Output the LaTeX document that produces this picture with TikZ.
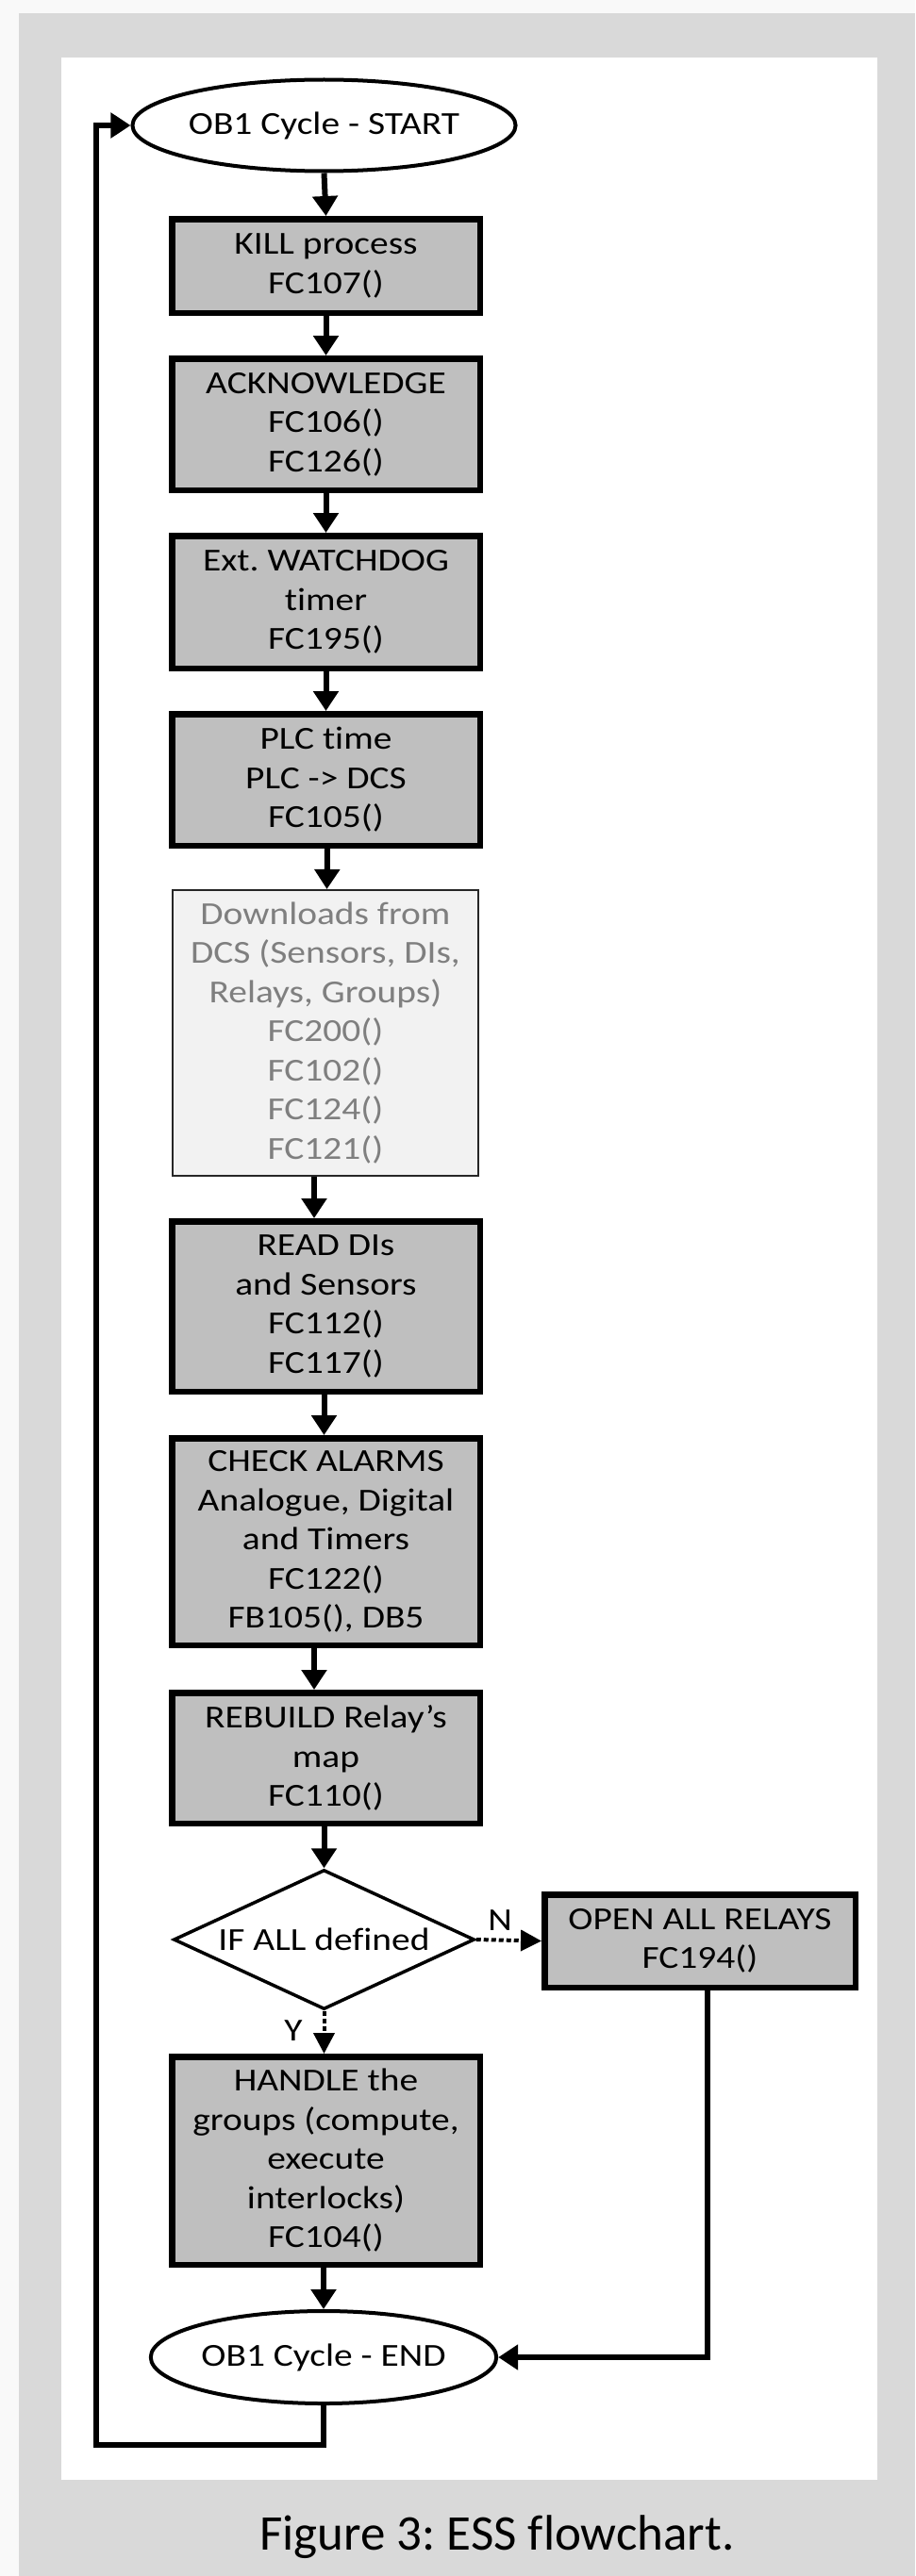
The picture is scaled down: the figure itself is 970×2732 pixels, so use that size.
\documentclass[tikz,border=0pt]{standalone}
\usepackage{fontspec}
\setmainfont{Carlito}[Ligatures={TeX,CommonOff}]
\newfontfamily\stretchfam{Carlito}[FakeStretch=1.16,Ligatures={TeX,CommonOff}]
\usetikzlibrary{arrows.meta,shapes.geometric}
\frenchspacing
\definecolor{outerbg}{HTML}{F9F9F9}
\definecolor{framegray}{HTML}{D9D9D9}
\definecolor{boxgray}{HTML}{BFBFBF}
\definecolor{lightfill}{HTML}{F2F2F2}
\definecolor{lighttext}{HTML}{7F7F7F}
\newcommand\boxfont{\stretchfam\frenchspacing\fontsize{34}{41.5}\selectfont}
\tikzset{
  box/.style={draw=black, line width=6.5pt, fill=boxgray, minimum width=326.5pt,
    inner sep=0pt, align=center, font=\boxfont, text=black},
  lightbox/.style={draw=black!85, line width=2pt, fill=lightfill, minimum width=324pt,
    inner sep=0pt, align=center, font=\boxfont, text=lighttext},
  term/.style={ellipse, draw=black, line width=4pt, fill=white, inner sep=0pt,
    align=center, font=\boxfont},
  decision/.style={diamond, draw=black, line width=3.5pt, fill=white, inner sep=0pt,
    aspect=2.15, align=center, font=\boxfont},
  arr/.style={line width=6pt, -{Triangle[length=21pt,width=26pt]}},
  dasharr/.style={line width=4pt, dash pattern=on 5pt off 3pt,
    -{Triangle[length=22pt,width=22pt]}},
  lab/.style={inner sep=0pt, font=\boxfont}
}
\begin{document}
\begin{tikzpicture}[x=1pt,y=-1pt]
\useasboundingbox (0,0) rectangle (970,2732);
\fill[outerbg] (0,0) rectangle (970,2732);
\fill[framegray] (20,14) rectangle (970,2732);
\fill[white] (65,61) rectangle (930,2630);

\node[term, minimum width=319pt, minimum height=97pt] (start) at (343.5,133) {OB1 Cycle - START};
\node[box, minimum height=99.5pt] (kill) at (345.5,282) {KILL process\\FC107()};
\node[box, minimum height=139.5pt] (ack) at (345.5,450) {ACKNOWLEDGE\\FC106()\\FC126()};
\node[box, minimum height=140.5pt] (wd) at (345.5,638.5) {Ext. WATCHDOG\\timer\\FC195()};
\node[box, minimum height=139.5pt] (plc) at (345.5,827) {PLC time\\PLC -> DCS\\FC105()};
\node[lightbox, minimum height=303pt] (dl) at (345,1095.5) {Downloads from\\DCS (Sensors, DIs,\\Relays, Groups)\\FC200()\\FC102()\\FC124()\\FC121()};
\node[box, minimum height=180.5pt] (read) at (345.5,1385.5) {READ DIs\\and Sensors\\FC112()\\FC117()};
\node[box, minimum height=219.5pt] (check) at (345.5,1635) {CHECK ALARMS\\Analogue, Digital\\and Timers\\FC122()\\FB105(), DB5};
\node[box, minimum height=138.5pt] (rebuild) at (345.5,1864.5) {REBUILD Relay’s\\map\\FC110()};
\node[decision, minimum width=319pt, minimum height=148pt] (dia) at (343.5,2057) {IF ALL defined};
\node[box, minimum width=329.5pt, minimum height=98.5pt] (open) at (742,2058.5) {OPEN ALL RELAYS\\FC194()};
\node[box, minimum height=220.5pt] (handle) at (345.5,2291.5) {HANDLE the\\groups (compute,\\execute\\interlocks)\\FC104()};
\node[term, minimum width=324pt, minimum height=98pt] (end) at (343,2500) {OB1 Cycle - END};

\node[lab] (nlab) at (530,2037) {N};
\node[lab] (ylab) at (311,2154) {Y};

\coordinate (lb) at (102,2593);
\coordinate (rx) at (750,2111);

\draw[arr] (start.south) -- (kill.north);
\draw[arr] (kill.south) -- (ack.north);
\draw[arr] (ack.south) -- (wd.north);
\draw[arr] (wd.south) -- (plc.north);
\draw[arr] ([xshift=1.5pt]plc.south) -- ([xshift=1.5pt]dl.north);
\draw[arr] ([xshift=-12pt]dl.south) -- ([xshift=-12.5pt]read.north);
\draw[arr] ([xshift=-2pt]read.south) -- ([xshift=-2pt]check.north);
\draw[arr] ([xshift=-12.5pt]check.south) -- ([xshift=-12.5pt]rebuild.north);
\draw[arr] ([xshift=-2pt]rebuild.south) -- (dia.north);
\draw[dasharr] (dia.east) -- (open.west);
\draw[dasharr] (dia.south) -- ([xshift=-2pt]handle.north);
\draw[arr] ([xshift=-2.5pt]handle.south) -- (end.north);
\draw[arr] (rx) |- (end.east);
\draw[arr] (end.south) |- (lb) |- (start.west);

\node[font=\frenchspacing\fontsize{53}{60}\selectfont, anchor=base] (cap) at (527,2704) {Figure 3: ESS flowchart.};
\end{tikzpicture}
\end{document}
